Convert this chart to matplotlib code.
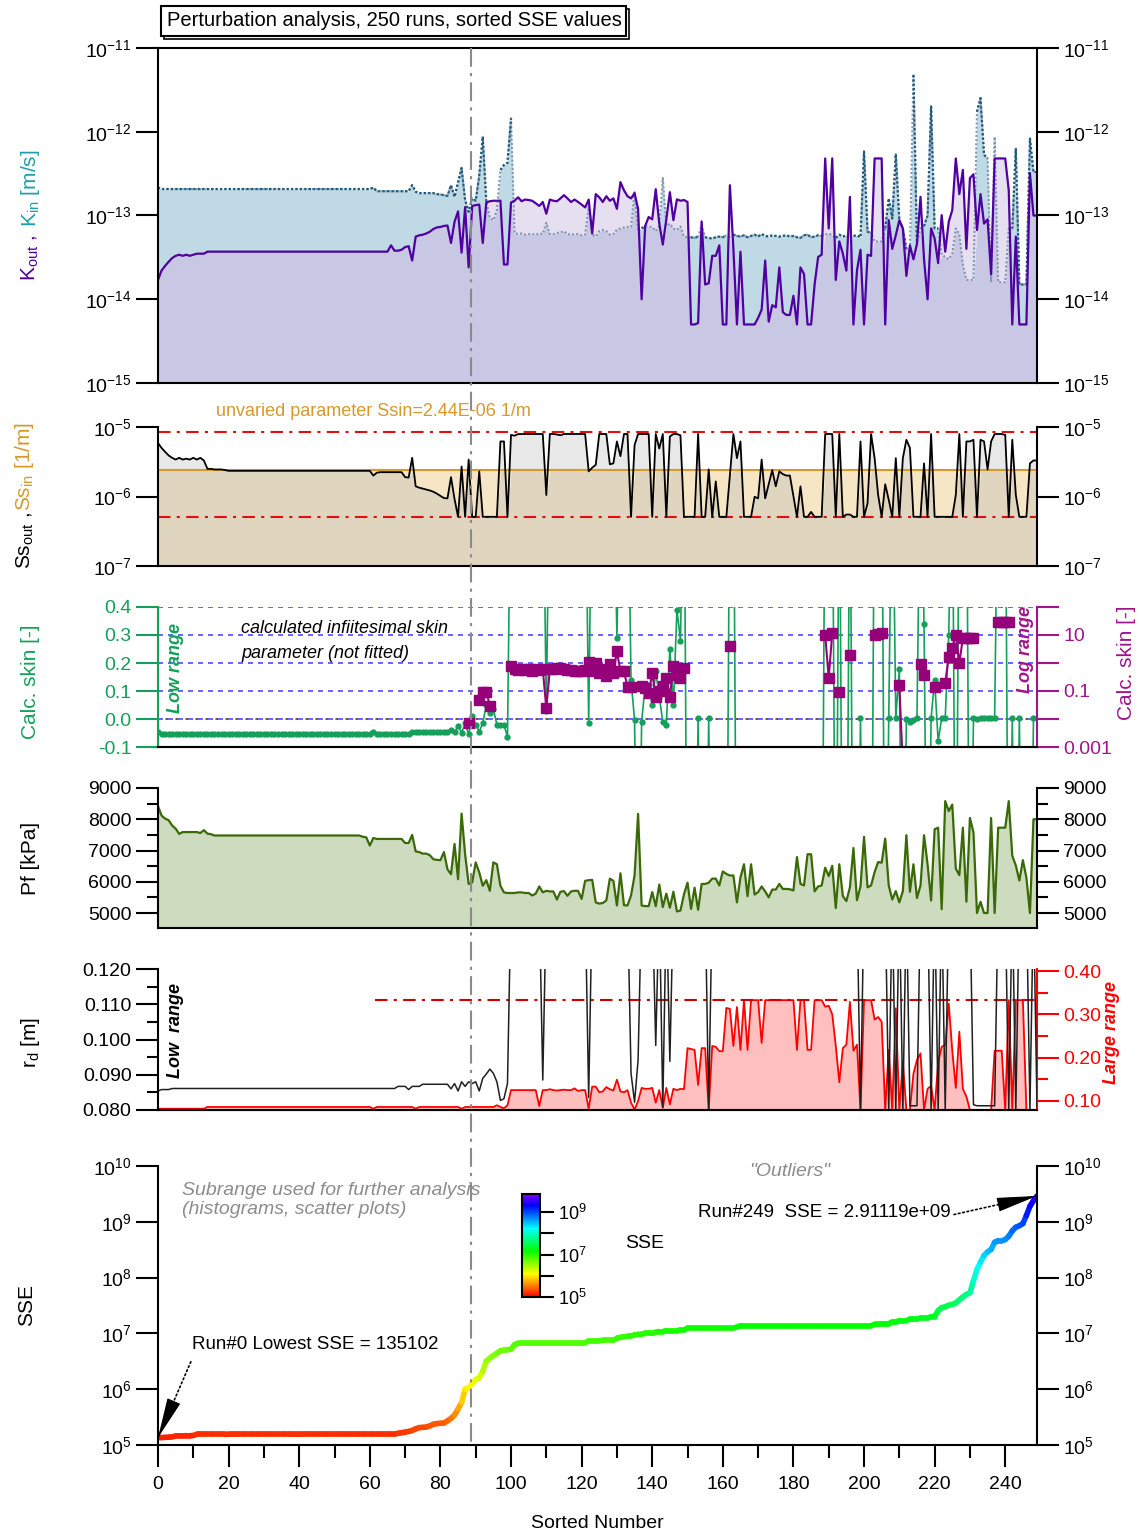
import numpy as np
import matplotlib
matplotlib.use('Agg')
import matplotlib.pyplot as plt
import matplotlib.transforms as mtransforms
from matplotlib.collections import LineCollection
from matplotlib.colors import LogNorm, LinearSegmentedColormap
from matplotlib.lines import Line2D
from matplotlib.patches import Rectangle
from matplotlib.cm import ScalarMappable
from matplotlib.ticker import (FixedLocator, MultipleLocator, NullLocator,
                               FormatStrFormatter, LogFormatterSciNotation)

plt.rcParams['font.family'] = ['Liberation Sans', 'DejaVu Sans']
plt.rcParams['mathtext.fontset'] = 'custom'
plt.rcParams['mathtext.rm'] = 'Liberation Sans'
plt.rcParams['mathtext.it'] = 'Liberation Sans:italic'
plt.rcParams['mathtext.bf'] = 'Liberation Sans:bold'
plt.rcParams['axes.unicode_minus'] = False
plt.rcParams['axes.linewidth'] = 1.5

# =============================================================================
# Data (index = sorted run number 0..249)
# =============================================================================
nan = np.nan

# K_out, K_in in units of 1e-14 m/s
K_OUT = ([1.7, 2.2, 2.5, 2.8, 3.1, 3.3, 3.4, 3.3, 3.4, 3.3,
          3.4, 3.5, 3.5, 3.5, 3.7] + [3.7] * 51 + [4.4, 3.8, 3.8, 3.9] +
         [4.2, 4.3, 2.9, 5.6, 5.8, 5.9, 6.1, 6.4, 6.9, 7.2,
          7.3, 7.5, 7.6, 4.7, 8.4, 11.2, 3.6, 12.6, 2.4, 13.0,
          13.3, 13.5, 4.7, 14.3, 14.8, 15.0, 15.0, 15.0, 2.6, 2.6,
          14.3, 15.0, 16.5, 14.8, 15.5, 15.3, 15.0, 14.0, 13.0, 14.5,
          10.5, 15.5, 15.0, 14.8, 16.0, 17.5, 16.0, 14.5, 15.5, 14.5,
          13.5, 12.5, 15.5, 6.1, 18.0, 16.5, 14.5, 17.0, 15.0, 16.0,
          12.0, 25.0, 20.0, 17.0, 16.0, 18.5, 12.0, 1.0, 7.5, 9.6,
          9.0, 20.6, 8.0, 4.5, 9.0, 19.0, 8.8, 15.6, 15.0, 15.3,
          14.5, 0.5, 0.5, 0.52, 8.5, 1.5, 1.55, 3.3, 3.3, 4.4,
          0.5, 0.5, 23.0, 4.0, 0.5, 3.7, 0.5, 0.5, 0.5, 0.5,
          0.6, 0.75, 2.9, 0.54, 0.85, 0.8, 2.4, 0.7, 0.65, 0.65,
          1.1, 0.5, 2.4, 2.0, 0.5, 0.5, 1.5, 3.2, 3.4, 48,
          7.0, 48, 1.7, 4.9, 3.5, 2.2, 16.7, 0.5, 2.2, 3.9,
          0.5, 3.4, 3.3, 48, 48, 48, 0.5, 8.8, 4.0, 5.8,
          8.8, 7.0, 1.9, 4.4, 3.0, 4.6, 16.7, 3.0, 1.0, 7.0,
          5.3, 2.7, 10.1, 3.7, 8.4, 11.6, 48, 18.0, 35, 4.0,
          28, 31, 6.7, 18.0, 8.0, 9.0, 2.0, 48, 48, 48,
          48, 20, 0.5, 5.6, 0.5, 0.5, 0.5, 32, 10, 10])

K_IN = ([21.6] + [20.7] * 59 + [20.7, 21.5] + [19.5] * 10 +
        [23.0, 19.2, 18.5, 18.5, 18.5, 18.5, 18.5, 18.0,
         17.8, 17.5, 17.1, 23.0, 16.7, 25.0, 37.0, 15.3, 11.1, 16.0,
         15.0, 30.0, 87.0, 14.6, 9.4, 8.8, 11.6, 35.0, 40.0, 42.5,
         145, 6.2, 6.0, 6.1, 5.9, 6.0, 6.0, 5.9, 6.1, 6.0,
         8.2, 6.0, 6.0, 6.2, 6.3, 6.5, 6.0, 5.9, 6.0, 6.0,
         5.8, 5.9, 12.8, 5.9, 5.6, 6.5, 6.7, 6.5, 5.9, 6.0,
         6.8, 7.0, 7.2, 7.3, 7.3, 19.0, 6.5, 7.0, 7.5, 7.4,
         7.3, 6.5, 7.5, 28.0, 7.5, 8.0, 7.0, 6.7, 7.4, 5.6,
         5.5, 5.5, 5.4, 5.6, 7.7, 5.5, 5.4, 5.3, 5.5, 5.6,
         5.5, 5.8, 5.6, 5.9, 5.7, 5.6, 5.8, 5.5, 5.7, 5.9,
         5.6, 6.0, 5.7, 5.6, 5.8, 5.7, 5.6, 5.7, 5.8, 5.6,
         5.7, 5.5, 5.4, 5.8, 5.9, 5.5, 5.6, 5.8, 5.7, 5.9,
         6.1, 5.8, 5.4, 5.9, 5.6, 5.8, 5.4, 5.7, 5.8, 5.5,
         58, 6.4, 6.2, 4.9, 4.9, 4.9, 7.0, 16.0, 9.2, 54,
         8.8, 7.0, 4.0, 4.0, 480, 4.6, 7.0, 7.5, 10.0, 200,
         7.0, 7.0, 3.4, 3.2, 3.0, 3.5, 7.0, 6.0, 2.6, 1.7,
         1.7, 1.7, 174, 252, 53, 48, 1.6, 87, 1.6, 1.6,
         1.6, 7.0, 7.0, 63, 1.5, 1.5, 1.5, 83, 33, 33])

# Ss_out in units of 1e-6 1/m, Ss_in fixed
SS_OUT = ([5.9, 5.0, 4.4, 3.9, 3.6, 3.4, 3.6, 3.4, 3.5, 3.4,
           3.6, 3.4, 3.6, 3.3, 2.5, 2.5, 2.45, 2.45, 2.45, 2.4] +
          [2.34] * 41 + [2.0, 2.2] + [2.24] * 7 +
          [1.9, 1.87, 3.6, 1.4, 1.34, 1.3, 1.26, 1.22, 1.17, 1.1,
           1.02, 0.95, 0.94, 1.9, 0.92, 0.51, 2.7, 0.51, 3.4, 0.51,
           0.51, 2.3, 0.51, 0.51, 0.51, 0.51, 0.51, 6.2, 6.2, 0.51,
           7.7, 7.5, 7.9, 7.93, 7.93, 7.93, 7.93, 7.93, 7.93, 7.93,
           1.05, 7.93, 7.93, 7.8, 7.6, 7.93, 7.93, 7.93, 7.93, 7.93,
           7.93, 7.93, 2.3, 2.6, 2.85, 7.93, 7.93, 7.93, 2.9, 3.0,
           6.2, 3.8, 7.93, 7.93, 0.51, 5.5, 7.93, 7.93, 7.93, 7.93,
           0.51, 7.93, 4.9, 7.93, 0.51, 7.3, 7.93, 7.93, 7.6, 0.51,
           0.51, 0.51, 0.51, 7.93, 0.51, 0.51, 2.45, 0.51, 1.65, 0.51,
           0.51, 0.51, 2.0, 7.93, 3.56, 6.2, 0.51, 0.51, 0.51, 0.99,
           0.94, 3.4, 0.94, 1.5, 2.4, 1.4, 2.3, 2.1, 2.0, 2.0,
           1.0, 0.51, 1.4, 0.51, 0.51, 0.6, 0.51, 0.51, 0.51, 7.93,
           7.93, 7.93, 0.51, 7.93, 0.51, 0.55, 0.55, 0.51, 0.51, 6.2,
           0.51, 0.8, 7.93, 3.56, 1.05, 0.51, 1.5, 0.9, 0.51, 3.56,
           0.51, 3.56, 6.55, 5.0, 0.51, 0.51, 0.51, 3.0, 0.51, 7.93,
           0.51, 0.51, 0.51, 0.51, 0.51, 0.51, 1.05, 7.93, 0.51, 6.2,
           6.2, 6.55, 0.51, 6.55, 6.2, 2.45, 6.2, 7.93, 7.93, 7.93,
           7.7, 0.51, 6.55, 1.05, 0.51, 0.51, 0.51, 3.0, 3.3, 3.3])
SS_IN = 2.44e-6
SS_BOUNDS = [5.1e-7, 8.5e-6]

# calculated skin, linear (green) and log-range (purple) curves
SKIN_LIN = ([-0.048] + [-0.055] * 60 + [-0.048] + [-0.055] * 10 + [-0.048] * 11 +
            [-0.04, -0.048, -0.025, -0.05, -0.015, -0.055, 0.01,
             -0.02, -0.045, -0.015, 0.05, 0.02, 0.035, -0.02, -0.02, -0.02, -0.065,
             1.0, 1.0, 1.0, 1.0, 1.0, 1.0, 1.0, 1.0, 1.0, 1.0,
             0.03, 1.0, 1.0, 1.0, 1.0, 1.0, 1.0, 1.0, 1.0, 1.0,
             1.0, 1.0, -0.013, 1.0, 1.0, 1.0, 1.0, 1.0, 1.0, 1.0,
             0.29, 1.0, 1.0, 1.0, 0.14, -0.005, -1.0, -0.01, 0.12, 0.12,
             0.05, 0.17, 0.08, -0.01, -0.02, 0.25, 0.05, 0.39, 0.28, 1.0,
             -1.0, -1.0, -1.0, 0.003, -1.0, -1.0, 0.003, -1.0, -1.0, -1.0,
             -1.0, -1.0, 1.0, 1.0, -1.0, -1.0, -1.0, -1.0, -1.0, -1.0,
             -1.0, -1.0, -1.0, -1.0, -1.0, -1.0, -1.0, -1.0, -1.0, -1.0,
             -1.0, -1.0, -1.0, -1.0, -1.0, -1.0, -1.0, -1.0, -1.0, 1.0,
             1.0, 1.0, -1.0, 1.0, -1.0, -1.0, 1.0, -1.0, -1.0, 0.003,
             -1.0, -1.0, -1.0, 1.0, 1.0, 1.0, -1.0, 0.003, 1.0, 0.003,
             0.18, -1.0, 0.0, -0.01, -0.005, 0.003, 1.0, 0.34, -1.0, 0.003,
             0.14, -0.08, 0.003, 0.003, 0.3, 1.0, -1.0, 1.0, 1.0, 1.0,
             -1.0, 0.003, 0.0, 0.002, 0.003, 0.003, 0.003, 0.003, 1.0, 1.0,
             1.0, -1.0, 0.003, -1.0, 0.003, -1.0, -1.0, -1.0, 0.003, 0.003])

SKIN_LOG = ([nan] * 88 + [0.007, nan, nan, 0.048, 0.095, 0.095, 0.03] + [nan] * 5 +
            [0.76, 0.6, 0.55, 0.6, 0.55, 0.6, 0.5, 0.6, 0.55, 0.6,
             0.024, 0.6, 0.6, 0.65, 0.65, 0.6, 0.55, 0.55, 0.5, 0.5,
             0.5, 0.55, 1.1, 0.5, 1.0, 0.45, 0.6, 0.35, 0.9, 0.45,
             2.6, 0.5, 0.5, 0.14, 0.14, nan, nan, 0.15, 0.126, 0.083,
             0.43, 0.063, 0.1, 0.15, 0.29, 0.063, 0.75, 0.38, 0.29, 0.66] +
            [nan] * 12 + [3.9] + [nan] * 26 + [9.9] +
            [0.3, 11.8, nan, 0.095, nan, nan, 2.0, nan, nan, nan,
             nan, nan, nan, 9.9, 11.0, 12.0, nan, nan, nan, nan,
             0.16, 0.0002, nan, nan, nan, nan, 0.9, 0.38, nan, nan,
             0.14, nan, nan, 0.19, 1.7, 3.4, 10.0, 1.0, 7.8, 7.5,
             7.5, 7.5, nan, nan, nan, nan, nan, nan, 29, 29,
             29, 29, nan, nan, nan, nan, nan, nan, nan, nan])

# formation pressure Pf [kPa]
PF = ([8420, 8120, 8020, 7970, 7800, 7700, 7530, 7590, 7590, 7590,
       7590, 7590, 7560, 7650, 7540, 7520, 7480] + [7480] * 41 +
      [7440, 7420, 7160, 7400] + [7370] * 8 +
      [7240, 7240, 7500, 6970, 6950, 6900, 6900, 6850, 6720, 6700,
       6690, 6950, 6400, 6240, 7210, 6080, 8180, 6880, 5930, 5980,
       6620, 6300, 5870, 6050, 5710, 6620, 6560, 5870, 5660, 5640,
       5640, 5640, 5660, 5660, 5640, 5640, 5560, 5620, 5850, 5660,
       5710, 5690, 5690, 5430, 5680, 5700, 5550, 5690, 5710, 5710,
       5450, 6030, 6050, 6060, 5340, 5300, 5320, 5400, 6100, 6030,
       5240, 6270, 5250, 5240, 5560, 6200, 8170, 5240, 5220, 5220,
       5670, 5220, 5910, 5190, 5620, 5170, 5680, 5050, 5080, 5600,
       5970, 5130, 5810, 5100, 5930, 5930, 5970, 6100, 6100, 5880,
       6330, 6250, 6200, 6200, 5340, 6140, 6560, 5540, 6560, 5590,
       5670, 5850, 5690, 5500, 5750, 5750, 5930, 5770, 5770, 5760,
       5720, 6790, 5930, 5880, 6880, 6880, 5690, 5850, 5880, 6450,
       6180, 6510, 5160, 6560, 5540, 5380, 5820, 7080, 5410, 5850,
       7440, 5820, 5880, 6310, 6630, 6610, 7380, 5880, 5430, 5700,
       5340, 5700, 7490, 5680, 6560, 5480, 5880, 7490, 6560, 5400,
       7680, 7730, 5120, 8580, 8260, 8470, 6420, 6210, 7730, 5360,
       8040, 7580, 5000, 5360, 5000, 5000, 8040, 5000, 7730, 7730,
       7730, 8580, 6830, 6520, 6040, 6690, 6130, 5000, 8000, 8000])

# radius r_d [m], low range (black, left axis) and large range (red, right axis)
RD_LOW = ([0.0854, 0.0858, 0.0858, 0.0858] + [0.0861] * 64 + [0.0867, 0.0867] +
          [0.0867, 0.0858, 0.0867, 0.0867, 0.0867, 0.0873, 0.0873, 0.0873, 0.0873, 0.0873,
           0.0873, 0.0873, 0.0873, 0.0860, 0.0875, 0.0854, 0.0880, 0.0867, 0.0880, 0.0875,
           0.0880, 0.0854, 0.0890, 0.0902, 0.0916, 0.0904, 0.0880, 0.0827, 0.0832, 0.0875] +
          [0.14] * 9 + [0.0885] + [0.14] * 12 + [0.0836] + [0.14] * 11 +
          [0.0904, 0.0822, 0.0942] + [0.14] * 4 +
          [0.0983, 0.14, 0.0808, 0.14, 0.0938] + [0.14] * 10 + [0.0803] + [0.14] * 42 +
          [0.080, 0.14, 0.14, 0.14, 0.14, 0.14, 0.14, 0.14, 0.080, 0.14, 0.080,
           0.14, 0.080, 0.14, 0.0812, 0.0812, 0.0812, 0.14, 0.14, 0.14, 0.080,
           0.14, 0.080, 0.14, 0.080, 0.14, 0.14, 0.14, 0.14, 0.14, 0.14,
           0.14, 0.0815, 0.0812, 0.0812, 0.0812, 0.0812, 0.0812, 0.0812, 0.14, 0.14,
           0.14, 0.080, 0.14, 0.080, 0.14, 0.14, 0.14, 0.080, 0.14, 0.081])

RD_LARGE = ([0.082] * 14 + [0.086] * 47 + [0.082] + [0.086] * 11 + [0.082] +
            [0.086] * 12 + [0.082] + [0.086] * 9 + [0.090, 0.086, 0.083, 0.090] +
            [0.125] * 8 + [0.088, 0.125] +
            [0.125, 0.127, 0.125, 0.124, 0.125, 0.126, 0.125, 0.125, 0.129, 0.123,
             0.125, 0.125, 0.082, 0.133, 0.133, 0.120, 0.122, 0.132, 0.127, 0.124,
             0.149, 0.122, 0.120, 0.125, 0.096, 0.080, 0.100, 0.130, 0.128, 0.128,
             0.130, 0.096, 0.125, 0.084, 0.130, 0.092, 0.128, 0.125, 0.128, 0.127,
             0.222, 0.220, 0.218, 0.137, 0.222, 0.222, 0.080, 0.227, 0.225, 0.215,
             0.215, 0.315, 0.313, 0.227, 0.317, 0.218, 0.333, 0.218, 0.333, 0.333,
             0.333, 0.234, 0.333, 0.333, 0.333, 0.333, 0.333, 0.333, 0.333, 0.333,
             0.333, 0.218, 0.333, 0.333, 0.218, 0.218, 0.333, 0.333, 0.333, 0.318,
             0.320, 0.300, 0.227, 0.143, 0.222, 0.230, 0.329, 0.216, 0.230, 0.079,
             0.333, 0.333, 0.333, 0.288, 0.294, 0.283, 0.079, 0.218, 0.079, 0.314,
             0.079, 0.190, 0.079, 0.079, 0.163, 0.195, 0.210, 0.079, 0.128, 0.135,
             0.079, 0.190, 0.225, 0.229, 0.325, 0.216, 0.130, 0.260, 0.128, 0.110,
             0.079, 0.079, 0.079, 0.079, 0.079, 0.079, 0.079, 0.216, 0.216, 0.216,
             0.079, 0.333, 0.079, 0.333, 0.333, 0.333, 0.079, 0.079, 0.079, 0.079])
RD_UPPER = 0.333
RD_UPPER_FROM = 61.5

# sorted SSE values
SSE = ([1.35102e5, 1.36e5, 1.37e5, 1.38e5, 1.40e5, 1.45e5, 1.46e5, 1.46e5, 1.47e5, 1.47e5,
        1.48e5, 1.55e5, 1.55e5, 1.55e5, 1.55e5, 1.55e5, 1.55e5, 1.55e5, 1.55e5, 1.55e5] +
       [1.56e5] * 20 + [1.57e5] * 28 + [1.62e5, 1.66e5] +
       [1.70e5, 1.75e5, 1.82e5, 1.95e5, 2.05e5, 2.07e5, 2.10e5, 2.20e5, 2.35e5, 2.42e5,
        2.45e5, 2.48e5, 2.70e5, 3.00e5, 3.45e5, 4.40e5, 5.80e5, 1.00e6, 1.07e6, 1.27e6,
        1.50e6, 1.60e6, 2.10e6, 3.20e6, 3.60e6, 4.00e6, 4.40e6, 4.90e6, 5.00e6, 5.10e6,
        5.20e6, 6.30e6] + [6.6e6] * 19 +
       [6.8e6, 7.4e6, 7.4e6, 7.4e6, 7.4e6, 7.5e6, 7.5e6, 7.5e6, 7.5e6,
        8.2e6, 8.5e6, 8.7e6, 8.9e6, 9.0e6, 9.4e6, 9.6e6, 9.7e6, 1.0e7, 1.0e7,
        1.0e7, 1.05e7, 1.08e7, 1.08e7, 1.12e7, 1.12e7, 1.12e7, 1.12e7, 1.15e7, 1.15e7] +
       [1.25e7] * 14 + [1.3e7] + [1.37e7] * 38 +
       [1.45e7, 1.45e7, 1.5e7, 1.5e7, 1.5e7, 1.6e7, 1.6e7,
        1.7e7, 1.7e7, 1.7e7, 1.8e7, 1.8e7, 1.8e7, 1.9e7, 1.9e7, 1.9e7, 2.0e7,
        2.0e7, 2.55e7, 2.9e7, 3.0e7, 3.2e7, 3.3e7, 3.5e7, 4.0e7, 4.5e7, 5.0e7,
        5.3e7, 8.8e7, 1.4e8, 1.9e8, 2.5e8, 2.9e8, 3.2e8, 4.3e8, 4.6e8, 4.6e8,
        4.8e8, 5.5e8, 6.9e8, 8.0e8, 8.5e8, 9.3e8, 1.3e9, 1.9e9, 2.4e9, 2.91119e9])

SUBRANGE_END = 88.7
SSE_CBAR_MAX = 7.2e9

# =============================================================================
# Figure layout (pixel based, Igor-like stacked panels)
# =============================================================================
W, H = 1141, 1537
fig = plt.figure(figsize=(W / 100, H / 100), dpi=100)
X0, X1 = 158, 1037


def axes_at(top, bottom):
    return fig.add_axes([X0 / W, 1 - bottom / H, (X1 - X0) / W, (bottom - top) / H])


def fx(px):
    return px / W


def fy(py):
    return 1 - py / H


def decades(lo, hi):
    return FixedLocator([10.0 ** e for e in range(lo, hi + 1)])


def base_style(ax, top=False, mirror=True):
    ax.set_xlim(0, 249)
    ax.spines['top'].set_visible(top)
    ax.tick_params(axis='y', which='major', direction='out', length=16, width=1.5,
                   labelsize=14, pad=3, right=mirror, labelright=mirror)
    ax.tick_params(axis='y', which='minor', direction='out', length=8, width=1.5,
                   right=mirror)
    ax.tick_params(axis='x', which='both', bottom=False, labelbottom=False)


TS = 14
c_kout = '#5000a0'
c_kin_lbl = '#1fa0a8'
c_orange = '#d69a2c'
c_green = '#14a05a'
c_purple = '#a0148c'
c_gray = '#8c8c8c'

# ---------------- Panel 1: K_out / K_in ----------------
ax1 = axes_at(48, 383)
kout = np.array(K_OUT) * 1e-14
kin = np.array(K_IN) * 1e-14
n1 = min(len(kout), len(kin))
x1 = np.arange(n1)
ax1.set_yscale('log')
kmin = np.minimum(kout[:n1], kin[:n1])
ax1.fill_between(x1, 1e-15, kmin, color='#c8c8e4', lw=0)
ax1.fill_between(x1, kmin, kin[:n1], color='#bfdae5', lw=0)
ax1.fill_between(x1, kmin, kout[:n1], color='#e6dff0', lw=0)
ax1.plot(x1, kin[:n1], color='#8296b4', lw=1.5, ls=(0, (1, 1)))
ax1.plot(x1, np.where(kin[:n1] >= kout[:n1], kin[:n1], np.nan), color='#1b5a7a',
         lw=1.6, ls=(0, (1, 1)))
ax1.plot(np.arange(len(kout)), kout, color=c_kout, lw=1.6)
ax1.set_ylim(1e-15, 1e-11)
ax1.yaxis.set_major_locator(decades(-15, -11))
ax1.yaxis.set_major_formatter(LogFormatterSciNotation())
ax1.yaxis.set_minor_locator(NullLocator())
base_style(ax1, top=True)

# ---------------- Panel 2: Ss ----------------
ax2 = axes_at(427, 566)
ss = np.array(SS_OUT) * 1e-6
x2 = np.arange(len(ss))
ax2.set_yscale('log')
ssin = np.full(len(ss), SS_IN)
smin = np.minimum(ss, ssin)
ax2.fill_between(x2, 1e-7, smin, color='#e0d5be', lw=0)
ax2.fill_between(x2, smin, ss, color='#e8e8e8', lw=0)
ax2.fill_between(x2, smin, ssin, color='#f6e6c6', lw=0)
ax2.axhline(SS_IN, color=c_orange, lw=1.5)
for b in SS_BOUNDS:
    ax2.axhline(b, color='#e01010', lw=1.5, ls=(0, (6, 3, 1.5, 3)))
ax2.plot(x2, ss, color='black', lw=1.3)
ax2.set_ylim(1e-7, 1e-5)
ax2.yaxis.set_major_locator(decades(-7, -5))
ax2.yaxis.set_major_formatter(LogFormatterSciNotation())
ax2.yaxis.set_minor_locator(NullLocator())
base_style(ax2)

# ---------------- Panel 3: skin ----------------
ax3 = axes_at(607, 747)
ax3r = ax3.twinx()
skl = np.array(SKIN_LIN)
skg = np.array(SKIN_LOG)
for v in (0.1, 0.2, 0.3, 0.4):
    ax3.axhline(v, color='#4d4dff', lw=1.2, ls=(0, (3, 3)))
ax3.axhline(0.0, color='#4d4dff', lw=1.2, ls=(0, (3, 3)))
ax3.axhline(0.0, color='#5a3a10', lw=1.2, ls=(1.5, (1.5, 4.5)))
ax3.plot(np.arange(len(skl)), skl, color=c_green, lw=1.2, marker='o', ms=3.5,
         mec=c_green, mfc=c_green)
ax3.set_ylim(-0.1, 0.4)
ax3.set_xlim(0, 249)
ax3.set_yticks([-0.1, 0.0, 0.1, 0.2, 0.3, 0.4])
ax3.yaxis.set_major_formatter(FormatStrFormatter('%.1f'))
ax3.spines['top'].set_visible(False)
ax3.spines['right'].set_visible(False)
ax3.spines['left'].set_color(c_green)
ax3.tick_params(axis='y', direction='out', length=16, width=1.5, labelsize=TS, pad=3,
                colors=c_green)
ax3.tick_params(axis='x', which='both', bottom=False, labelbottom=False)

ax3r.set_yscale('log')
ax3r.plot(np.arange(len(skg)), skg, color='#960078', lw=1.5, marker='s', ms=7,
          mec='#960078', mfc='#960078')
ax3r.set_ylim(1e-3, 1e2)
ax3r.set_xlim(0, 249)
ax3r.yaxis.set_major_locator(decades(-3, 2))
ax3r.yaxis.set_minor_locator(NullLocator())
ax3r.set_yticklabels(['0.001', '', '0.1', '', '10', ''])
for s in ('top', 'left'):
    ax3r.spines[s].set_visible(False)
ax3r.spines['right'].set_color(c_purple)
ax3r.tick_params(axis='y', direction='out', length=16, width=1.5, labelsize=TS, pad=3,
                 colors=c_purple)
ax3r.tick_params(axis='x', which='both', bottom=False, labelbottom=False)

# ---------------- Panel 4: Pf ----------------
ax4 = axes_at(788, 928)
pf = np.array(PF, dtype=float)
x4 = np.arange(len(pf))
ax4.fill_between(x4, 4520, pf, color='#cddbbf', lw=0)
ax4.plot(x4, pf, color='#3a6a08', lw=1.6)
ax4.set_ylim(4520, 9000)
ax4.set_yticks([5000, 6000, 7000, 8000, 9000])
ax4.yaxis.set_minor_locator(FixedLocator([5500, 6500, 7500, 8500]))
base_style(ax4)

# ---------------- Panel 5: r_d ----------------
ax5 = axes_at(969, 1110)
ax5r = ax5.twinx()
ax5r.set_zorder(ax5.get_zorder() - 1)
ax5.patch.set_visible(False)
rdl = np.array(RD_LOW)
rdr = np.array(RD_LARGE)
xr = np.arange(len(rdr))
ax5r.fill_between(xr, 0.079, rdr, color='#ffbfbf', lw=0)
ax5r.plot(xr, rdr, color='#ff0000', lw=1.3)
ax5r.hlines(RD_UPPER, RD_UPPER_FROM, 249, color='#d00000', lw=1.5,
            linestyles=[(0, (6, 3, 1.5, 3))])
ax5.plot(np.arange(len(rdl)), rdl, color='#202020', lw=1.1)
ax5.set_ylim(0.080, 0.120)
ax5.set_xlim(0, 249)
ax5.set_yticks([0.08, 0.09, 0.10, 0.11, 0.12])
ax5.yaxis.set_minor_locator(FixedLocator([0.085, 0.095, 0.105, 0.115]))
ax5.yaxis.set_major_formatter(FormatStrFormatter('%.3f'))
ax5.spines['top'].set_visible(False)
ax5.spines['right'].set_visible(False)
ax5.tick_params(axis='y', which='major', direction='out', length=16, width=1.5,
                labelsize=TS, pad=3)
ax5.tick_params(axis='y', which='minor', direction='out', length=8, width=1.5)
ax5.tick_params(axis='x', which='both', bottom=False, labelbottom=False)
ax5r.set_ylim(0.079, 0.405)
ax5r.set_xlim(0, 249)
ax5r.set_yticks([0.1, 0.2, 0.3, 0.4])
ax5r.yaxis.set_minor_locator(FixedLocator([0.15, 0.25, 0.35]))
ax5r.yaxis.set_major_formatter(FormatStrFormatter('%.2f'))
for s in ('top', 'left'):
    ax5r.spines[s].set_visible(False)
ax5r.spines['right'].set_color('#ff0000')
ax5r.tick_params(axis='y', which='major', direction='out', length=16, width=1.5,
                 labelsize=TS, pad=3, colors='#ff0000')
ax5r.tick_params(axis='y', which='minor', direction='out', length=8, width=1.5,
                 colors='#ff0000')
ax5r.tick_params(axis='x', which='both', bottom=False, labelbottom=False)

# ---------------- Panel 6: SSE ----------------
ax6 = axes_at(1166, 1445)
sse = np.array(SSE)
x6 = np.arange(len(sse))
ax6.set_yscale('log')
norm = LogNorm(vmin=1e5, vmax=SSE_CBAR_MAX)
# hue ramp red -> yellow -> green -> cyan -> blue -> violet (0..270 deg)
cmap = LinearSegmentedColormap.from_list(
    'igor_rainbow',
    [(0.0, '#ff0000'), (60 / 270, '#ffff00'), (120 / 270, '#00ff00'),
     (180 / 270, '#00ffff'), (240 / 270, '#0000ff'), (1.0, '#8000ff')])
pts = np.column_stack([x6, sse])
segs = np.stack([pts[:-1], pts[1:]], axis=1)
lc = LineCollection(segs, colors=cmap(norm(np.sqrt(sse[:-1] * sse[1:]))),
                    linewidths=4.0, capstyle='round')
ax6.add_collection(lc)
ax6.set_ylim(1e5, 1e10)
ax6.yaxis.set_major_locator(decades(5, 10))
ax6.yaxis.set_major_formatter(LogFormatterSciNotation())
ax6.yaxis.set_minor_locator(NullLocator())
base_style(ax6)
ax6.set_xticks(np.arange(0, 241, 20))
ax6.xaxis.set_minor_locator(FixedLocator(np.arange(10, 250, 20)))
ax6.tick_params(axis='x', which='major', bottom=True, labelbottom=True, direction='out',
                length=16, width=1.5, labelsize=TS, pad=6)
ax6.tick_params(axis='x', which='minor', bottom=True, direction='out', length=9, width=1.5)
ax6.set_xlabel('Sorted Number', fontsize=TS, labelpad=16)


def dotted_arrow(ax, head, tail, frac):
    """Dotted shaft with a solid filled head (Igor style)."""
    ax.annotate('', xy=head, xytext=tail,
                arrowprops=dict(arrowstyle='-', lw=1.2, ls=':', color='black',
                                shrinkA=0, shrinkB=0))
    hx = head[0] + frac * (tail[0] - head[0])
    hy = 10 ** (np.log10(head[1]) + frac * (np.log10(tail[1]) - np.log10(head[1])))
    ax.annotate('', xy=head, xytext=(hx, hy),
                arrowprops=dict(arrowstyle='-|>,head_length=2.6,head_width=0.45',
                                lw=0.8, color='black', shrinkA=0, shrinkB=0))


dotted_arrow(ax6, (0, sse[0]), (9.3, 3.1e6), 0.4)
ax6.text(9.6, 6.2e6, f'Run#0 Lowest SSE = {sse[0]:.0f}', fontsize=13.5, va='center')
dotted_arrow(ax6, (len(sse) - 1, sse[-1]), (225.5, 1.35e9), 0.45)
ax6.text(224.5, 1.45e9, f'Run#{len(sse) - 1}  SSE = {sse[-1]:g}', fontsize=13.5,
         va='center', ha='right')

cax = fig.add_axes([522 / W, fy(1297), 18 / W, 103 / H])
cb = fig.colorbar(ScalarMappable(norm=norm, cmap=cmap), cax=cax)
cb.set_ticks([1e5, 1e6, 1e7, 1e8, 1e9])
cb.set_ticklabels(['$10^{5}$', '', '$10^{7}$', '', '$10^{9}$'])
cb.ax.minorticks_off()
cb.ax.tick_params(length=10, width=1.5, labelsize=13, pad=3)
cb.outline.set_linewidth(1.5)
fig.text(fx(645), fy(1243), 'SSE', fontsize=TS, ha='center', va='center')

# subrange marker through all panels
blend = mtransforms.blended_transform_factory(ax6.transData, fig.transFigure)
fig.add_artist(Line2D([SUBRANGE_END, SUBRANGE_END], [fy(48), fy(1445)], transform=blend,
                      color='#8a8a8a', lw=1.5, ls=(0, (9, 3, 1.5, 3))))

# =============================================================================
# Labels and notes
# =============================================================================
fig.patches.append(Rectangle((fx(164), fy(39)), 465 / W, 30 / H, transform=fig.transFigure,
                             fc='white', ec='black', lw=1.2, zorder=1))
fig.patches.append(Rectangle((fx(161), fy(36)), 465 / W, 30 / H, transform=fig.transFigure,
                             fc='white', ec='black', lw=1.5, zorder=2))
fig.text(fx(394), fy(21), 'Perturbation analysis, 250 runs, sorted SSE values',
         fontsize=14.5, ha='center', va='center', zorder=3)

ylab = dict(rotation=90, ha='center', va='center', fontsize=15)
fig.text(fx(30), fy(258), r'K$_{\mathrm{out}}$ ,', color=c_kout, **ylab)
fig.text(fx(30), fy(188), r'K$_{\mathrm{in}}$ [m/s]', color=c_kin_lbl, **ylab)
fig.text(fx(25), fy(540), r'Ss$_{\mathrm{out}}$ ,', color='black', **ylab)
fig.text(fx(25), fy(466), r'Ss$_{\mathrm{in}}$ [1/m]', color=c_orange, **ylab)
fig.text(fx(30), fy(682), 'Calc. skin [-]', color=c_green, **ylab)
fig.text(fx(1127), fy(663), 'Calc. skin [-]', color=c_purple, **ylab)
fig.text(fx(30), fy(858), 'Pf [kPa]', color='black', **ylab)
fig.text(fx(30), fy(1042), r'r$_{\mathrm{d}}$ [m]', color='black', **ylab)
fig.text(fx(27), fy(1305), 'SSE', color='black', **ylab)

fig.text(fx(216), fy(412), 'unvaried parameter Ssin=2.44E-06 1/m', color=c_orange,
         fontsize=13, va='center')
fig.text(fx(241), fy(628), 'calculated infiitesimal skin', fontsize=13, style='italic',
         va='center')
fig.text(fx(241), fy(653), 'parameter (not fitted)', fontsize=13, style='italic',
         va='center')
rot = dict(rotation=90, ha='center', va='center', fontsize=13, weight='bold',
           style='italic')
fig.text(fx(175), fy(668), 'Low range', color=c_green, **rot)
fig.text(fx(1025), fy(650), 'Log range', color=c_purple, **rot)
fig.text(fx(175), fy(1030), 'Low  range', color='black', **rot)
fig.text(fx(1112), fy(1032), 'Large range', color='#ff0000', **rot)

fig.text(fx(182), fy(1200), 'Subrange used for further analysis\n(histograms, scatter plots)',
         color=c_gray, fontsize=14, style='italic', va='center', linespacing=1.1)
fig.text(fx(790), fy(1172), '"Outliers"', color=c_gray, fontsize=14, style='italic',
         ha='center', va='center')

fig.savefig('out.png', dpi=100)
